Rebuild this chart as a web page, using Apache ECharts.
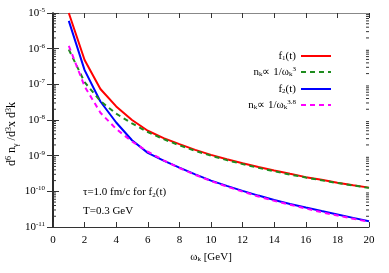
<!DOCTYPE html>
<html>
<head>
<meta charset="utf-8">
<script src="https://cdn.jsdelivr.net/npm/echarts@6/dist/echarts.min.js"></script>
<style>html,body{margin:0;padding:0;background:#fff}#c{width:389px;height:273px}</style>
</head>
<body>
<div id="c"></div>
<script>
var omega = [1,2,3,4,5,6,7,8,9,10,11,12,13,14,15,16,17,18,19,20];
var f1 = [1.0e-5,4.8e-7,7.4e-8,2.4e-8,1.0e-8,5.0e-9,3.1e-9,2.1e-9,1.45e-9,1.05e-9,7.9e-10,6.1e-10,4.8e-10,3.85e-10,3.1e-10,2.5e-10,2.1e-10,1.75e-10,1.48e-10,1.27e-10];
var pow3 = [9.5e-7,1.15e-7,3.4e-8,1.5e-8,8.0e-9,4.6e-9,2.9e-9,1.95e-9,1.37e-9,1.0e-9,7.5e-10,5.8e-10,4.55e-10,3.65e-10,2.96e-10,2.44e-10,2.04e-10,1.71e-10,1.46e-10,1.25e-10];
var f2 = [6.0e-6,2.5e-7,3.3e-8,8.5e-9,2.7e-9,1.2e-9,7.3e-10,4.6e-10,3.0e-10,2.0e-10,1.42e-10,1.03e-10,7.6e-11,5.7e-11,4.4e-11,3.5e-11,2.8e-11,2.25e-11,1.8e-11,1.45e-11];
var pow38 = [1.2e-6,8.8e-8,1.6e-8,5.6e-9,2.5e-9,1.3e-9,7.4e-10,4.5e-10,2.9e-10,1.95e-10,1.36e-10,9.8e-11,7.2e-11,5.4e-11,4.2e-11,3.3e-11,2.6e-11,2.1e-11,1.7e-11,1.4e-11];
var xTicks = [0,2,4,6,8,10,12,14,16,18,20];
var yDecades = [-11,-10,-9,-8,-7,-6,-5];

var minorVals = [];
for (var d = -11; d < -5; d++) {
  for (var m = 2; m <= 9; m++) minorVals.push([m * Math.pow(10, d)]);
}
function pairs(arr){ return omega.map(function(x,i){ return [x, arr[i]]; }); }

var serif = 'Liberation Serif';
var rich = {
  b: {fontFamily: serif, fontSize: 11, color: '#000'},
  s: {fontFamily: serif, fontSize: 7, color: '#000', verticalAlign: 'top', padding: [0,0,6,0]},
  u: {fontFamily: serif, fontSize: 7, color: '#000', verticalAlign: 'bottom', padding: [5,0,0,0]}
};
var richL = {
  b: {fontFamily: serif, fontSize: 11, color: '#000', lineHeight: 12},
  s: {fontFamily: serif, fontSize: 7, color: '#000', verticalAlign: 'top', padding: [0,0,6,0], lineHeight: 12},
  u: {fontFamily: serif, fontSize: 7, color: '#000', verticalAlign: 'bottom', padding: [5,0,0,0], lineHeight: 12}
};
var richT = {
  b: {fontFamily: serif, fontSize: 12, color: '#000'},
  s: {fontFamily: serif, fontSize: 8, color: '#000', verticalAlign: 'top', padding: [0,0,7,0]},
  u: {fontFamily: serif, fontSize: 8, color: '#000', verticalAlign: 'bottom', padding: [6,0,0,0]}
};
var legendNames = {
  f1: '{b|f}{u|1}{b|(t)}',
  p3: '{b|n}{u|k}{b|\u221d 1/\u03c9}{u|k}{s|3}',
  f2: '{b|f}{u|2}{b|(t)}',
  p38: '{b|n}{u|k}{b|\u221d 1/\u03c9}{u|k}{s|3.8}'
};

var chart = echarts.init(document.getElementById('c'), null, {renderer: 'canvas'});
var frameColor = '#333';
chart.setOption({
  animation: false,
  backgroundColor: '#fff',
  grid: {left: 53, right: 20, top: 13, bottom: 46, containLabel: false, outerBoundsMode: 'none'},
  legend: {
    orient: 'vertical', right: 57, top: 50, align: 'right', padding: 0,
    itemWidth: 30, itemHeight: 10, itemGap: 4,
    data: ['f1','p3','f2','p38'],
    itemStyle: {opacity: 0},
    formatter: function(n){ return legendNames[n]; },
    textStyle: {rich: richL, lineHeight: 12, padding: [0,0,0,0]}
  },
  xAxis: [{
    type: 'value', min: 0, max: 20, interval: 2,
    axisLine: {lineStyle: {color: frameColor, width: 1}},
    axisTick: {inside: true, length: 5, lineStyle: {color: frameColor}},
    axisLabel: {fontFamily: serif, fontSize: 11, color: '#000', margin: 8},
    splitLine: {show: false},
    name: '{b|\u03c9}{u|k}{b| [GeV]}', nameLocation: 'middle', nameGap: 24,
    nameTextStyle: {rich: rich}
  }, {
    type: 'value', min: 0, max: 20, interval: 2, position: 'top',
    axisLine: {lineStyle: {color: '#888', width: 1}},
    axisTick: {inside: true, length: 5, lineStyle: {color: frameColor}},
    axisLabel: {show: false}, splitLine: {show: false}
  }],
  yAxis: [{
    type: 'log', min: 1e-11, max: 1e-5, logBase: 10,
    axisLine: {show: true, lineStyle: {color: '#888', width: 1.5}},
    axisTick: {inside: true, length: 6, lineStyle: {color: frameColor}},
    axisLabel: {margin: 8, formatter: function(v){ var e = Math.round(Math.log10(v)); return '{b|10}{s|' + e + '}'; }, rich: rich},
    splitLine: {show: false}
  }, {
    type: 'log', min: 1e-11, max: 1e-5, logBase: 10, position: 'right',
    axisLine: {show: true, lineStyle: {color: '#000', width: 1.5}},
    axisTick: {inside: true, length: 6, lineStyle: {color: frameColor}},
    axisLabel: {show: false}, splitLine: {show: false}
  }],
  graphic: [{
    type: 'text', x: 12, y: 134, rotation: Math.PI / 2,
    style: {text: '{b|d}{s|6}{b| n}{u|\u03b3}{b| /d}{s|3}{b|x d}{s|3}{b|k}', rich: richT, align: 'center', verticalAlign: 'middle'}
  }, {
    type: 'text', left: 83, top: 187,
    style: {text: '{b|\u03c4=1.0 fm/c for f}{u|2}{b|(t)}', rich: rich}
  }, {
    type: 'text', left: 83, top: 206,
    style: {text: '{b|T=0.3 GeV}', rich: rich}
  }],
  series: [
    {name: 'f1', type: 'line', data: pairs(f1), showSymbol: false, symbol: 'none', lineStyle: {color: '#ff0000', width: 2}, itemStyle: {color: '#ff0000'}, z: 3},
    {name: 'p3', type: 'line', data: pairs(pow3), showSymbol: false, symbol: 'none', lineStyle: {color: '#1e8c1e', width: 2, type: [5,4]}, itemStyle: {color: '#1e8c1e'}, z: 4},
    {name: 'f2', type: 'line', data: pairs(f2), showSymbol: false, symbol: 'none', lineStyle: {color: '#0000ff', width: 2}, itemStyle: {color: '#0000ff'}, z: 3},
    {name: 'p38', type: 'line', data: pairs(pow38), showSymbol: false, symbol: 'none', lineStyle: {color: '#ff00ff', width: 2, type: [5,4]}, itemStyle: {color: '#ff00ff'}, z: 4},
    {
      type: 'custom', data: minorVals, silent: true, z: 5,
      renderItem: function(params, api){
        var v = api.value(0);
        var pl = api.coord([0, v]);
        var pr = api.coord([20, v]);
        return {type: 'group', children: [
          {type: 'line', shape: {x1: pl[0], y1: pl[1], x2: pl[0] + 3, y2: pl[1]}, style: {stroke: frameColor, lineWidth: 1}},
          {type: 'line', shape: {x1: pr[0], y1: pr[1], x2: pr[0] - 3, y2: pr[1]}, style: {stroke: frameColor, lineWidth: 1}}
        ]};
      }
    }
  ]
});
</script>
</body>
</html>
